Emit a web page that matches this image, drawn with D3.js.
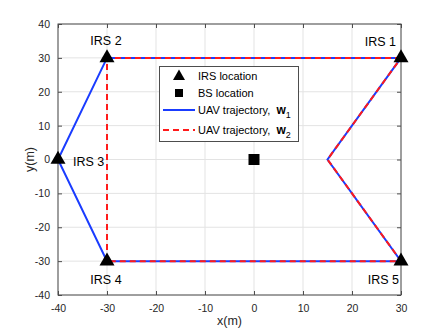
<!DOCTYPE html>
<html>
<head>
<meta charset="utf-8">
<script src="https://cdn.jsdelivr.net/npm/d3@7/dist/d3.min.js"></script>
<style>
  body { margin: 0; background: #fff; }
  svg text { font-family: "Liberation Sans", Arial, sans-serif; }
</style>
</head>
<body>
<div id="chart"></div>
<script>
// IRS positions
var irsNames = ["IRS 1", "IRS 2", "IRS 3", "IRS 4", "IRS 5"];
var irsX = [30, -30, -40, -30, 30];
var irsY = [30, 30, 0, -30, -30];
// base station
var bsX = [0];
var bsY = [0];
// trajectories
var w1X = [30, -30, -40, -30, 30, 15, 30];
var w1Y = [30, 30, 0, -30, -30, 0, 30];
var w2X = [30, -30, -30, 30, 15, 30];
var w2Y = [30, 30, -30, -30, 0, 30];
// ticks
var xTicks = [-40, -30, -20, -10, 0, 10, 20, 30];
var yTicks = [-40, -30, -20, -10, 0, 10, 20, 30, 40];

var width = 443, height = 332,
    margin = {top: 24, right: 42, bottom: 37, left: 58};

var svg = d3.select("#chart").append("svg")
    .attr("width", width)
    .attr("height", height);

var x = d3.scaleLinear().domain([-40, 30]).range([margin.left, width - margin.right]);
var y = d3.scaleLinear().domain([-40, 40]).range([height - margin.bottom, margin.top]);

var axisCol = "#4d4d4d", gridCol = "#e3e3e3", textCol = "#262626";
var fmt = function(d) { return String(d); }; // plain hyphen, like the original

// grid
svg.append("g").selectAll("line.gx").data(xTicks).enter().append("line")
    .attr("x1", function(d) { return x(d); }).attr("x2", function(d) { return x(d); })
    .attr("y1", y(-40)).attr("y2", y(40))
    .attr("stroke", gridCol).attr("stroke-width", 1);
svg.append("g").selectAll("line.gy").data(yTicks).enter().append("line")
    .attr("y1", function(d) { return y(d); }).attr("y2", function(d) { return y(d); })
    .attr("x1", x(-40)).attr("x2", x(30))
    .attr("stroke", gridCol).attr("stroke-width", 1);

// axes with inward ticks
function styleAxis(g) {
    g.select(".domain").remove();
    g.selectAll(".tick line").attr("stroke", axisCol);
    g.selectAll(".tick text").attr("fill", textCol).style("font-size", "10.5px");
}
svg.append("g").attr("transform", "translate(0," + y(-40) + ")")
    .call(d3.axisBottom(x).tickValues(xTicks).tickFormat(fmt).tickSizeInner(-4).tickSizeOuter(0).tickPadding(10))
    .call(styleAxis);
svg.append("g").attr("transform", "translate(" + x(-40) + ",0)")
    .call(d3.axisLeft(y).tickValues(yTicks).tickFormat(fmt).tickSizeInner(-4).tickSizeOuter(0).tickPadding(8))
    .call(styleAxis);
svg.append("g").attr("transform", "translate(0," + y(40) + ")")
    .call(d3.axisTop(x).tickValues(xTicks).tickSizeInner(-4).tickSizeOuter(0).tickFormat(""))
    .call(styleAxis);
svg.append("g").attr("transform", "translate(" + x(30) + ",0)")
    .call(d3.axisRight(y).tickValues(yTicks).tickSizeInner(-4).tickSizeOuter(0).tickFormat(""))
    .call(styleAxis);

svg.append("rect")
    .attr("x", x(-40)).attr("y", y(40))
    .attr("width", x(30) - x(-40)).attr("height", y(-40) - y(40))
    .attr("fill", "none").attr("stroke", axisCol).attr("stroke-width", 1);

// axis labels
svg.append("text").attr("x", (x(-40) + x(30)) / 2).attr("y", 325)
    .attr("text-anchor", "middle").attr("fill", textCol).style("font-size", "12.5px").text("x(m)");
svg.append("text").attr("transform", "translate(34," + (y(-40) + y(40)) / 2 + ") rotate(-90)")
    .attr("text-anchor", "middle").attr("fill", textCol).style("font-size", "12.5px").text("y(m)");

var line = d3.line().x(function(d) { return x(d[0]); }).y(function(d) { return y(d[1]); });

// trajectories
svg.append("path").datum(d3.zip(w1X, w1Y)).attr("d", line)
    .attr("fill", "none").attr("stroke", "#1a3cff").attr("stroke-width", 2);
svg.append("path").datum(d3.zip(w2X, w2Y)).attr("d", line)
    .attr("fill", "none").attr("stroke", "#ff1a1a").attr("stroke-width", 2)
    .attr("stroke-dasharray", "6,4");

// markers
var tri = "M0,-8.7L7.5,4.3L-7.5,4.3Z";
svg.append("g").selectAll("path").data(d3.zip(irsX, irsY)).enter().append("path")
    .attr("d", tri)
    .attr("transform", function(d) { return "translate(" + x(d[0]) + "," + y(d[1]) + ")"; })
    .attr("fill", "#000");
svg.append("g").selectAll("rect").data(d3.zip(bsX, bsY)).enter().append("rect")
    .attr("x", function(d) { return x(d[0]) - 5.5; })
    .attr("y", function(d) { return y(d[1]) - 5.5; })
    .attr("width", 11).attr("height", 11).attr("fill", "#000");

// IRS labels
var labelPos = [
    {dx: -5, dy: -12, anchor: "end"},
    {dx: -1, dy: -13, anchor: "middle"},
    {dx: 15, dy: 6, anchor: "start"},
    {dx: -1, dy: 23, anchor: "middle"},
    {dx: -2, dy: 23, anchor: "end"}
];
svg.append("g").selectAll("text").data(irsNames).enter().append("text")
    .attr("x", function(d, i) { return x(irsX[i]) + labelPos[i].dx; })
    .attr("y", function(d, i) { return y(irsY[i]) + labelPos[i].dy; })
    .attr("text-anchor", function(d, i) { return labelPos[i].anchor; })
    .style("font-size", "12.5px").attr("fill", "#000")
    .text(function(d) { return d; });

// legend
var lg = svg.append("g");
lg.append("rect").attr("x", 159.5).attr("y", 66.5).attr("width", 139).attr("height", 75)
    .attr("fill", "#fff").attr("stroke", axisCol).attr("stroke-width", 1);
var lx0 = 163, lx1 = 195, lxs = (lx0 + lx1) / 2, ltx = 198;
lg.append("path").attr("d", "M0,-6.6L6,4L-6,4Z")
    .attr("transform", "translate(" + lxs + ",76)").attr("fill", "#000");
lg.append("rect").attr("x", lxs - 4).attr("y", 89).attr("width", 8).attr("height", 8).attr("fill", "#000");
lg.append("line").attr("x1", lx0).attr("x2", lx1).attr("y1", 110).attr("y2", 110)
    .attr("stroke", "#1a3cff").attr("stroke-width", 2);
lg.append("line").attr("x1", lx0).attr("x2", lx1).attr("y1", 130).attr("y2", 130)
    .attr("stroke", "#ff1a1a").attr("stroke-width", 2).attr("stroke-dasharray", "6,4");
function legText(yy, txt, sub) {
    var t = lg.append("text").attr("x", ltx).attr("y", yy).style("font-size", "11px").attr("fill", "#000");
    t.append("tspan").text(txt);
    if (sub) {
        t.append("tspan").attr("dx", 3).style("font-weight", "bold").style("font-size", "12px").text("w");
        t.append("tspan").attr("dy", 3.5).style("font-size", "9px").text(sub);
    }
}
legText(80, "IRS location");
legText(97, "BS location");
legText(114, "UAV trajectory, ", "1");
legText(134, "UAV trajectory, ", "2");
</script>
</body>
</html>
